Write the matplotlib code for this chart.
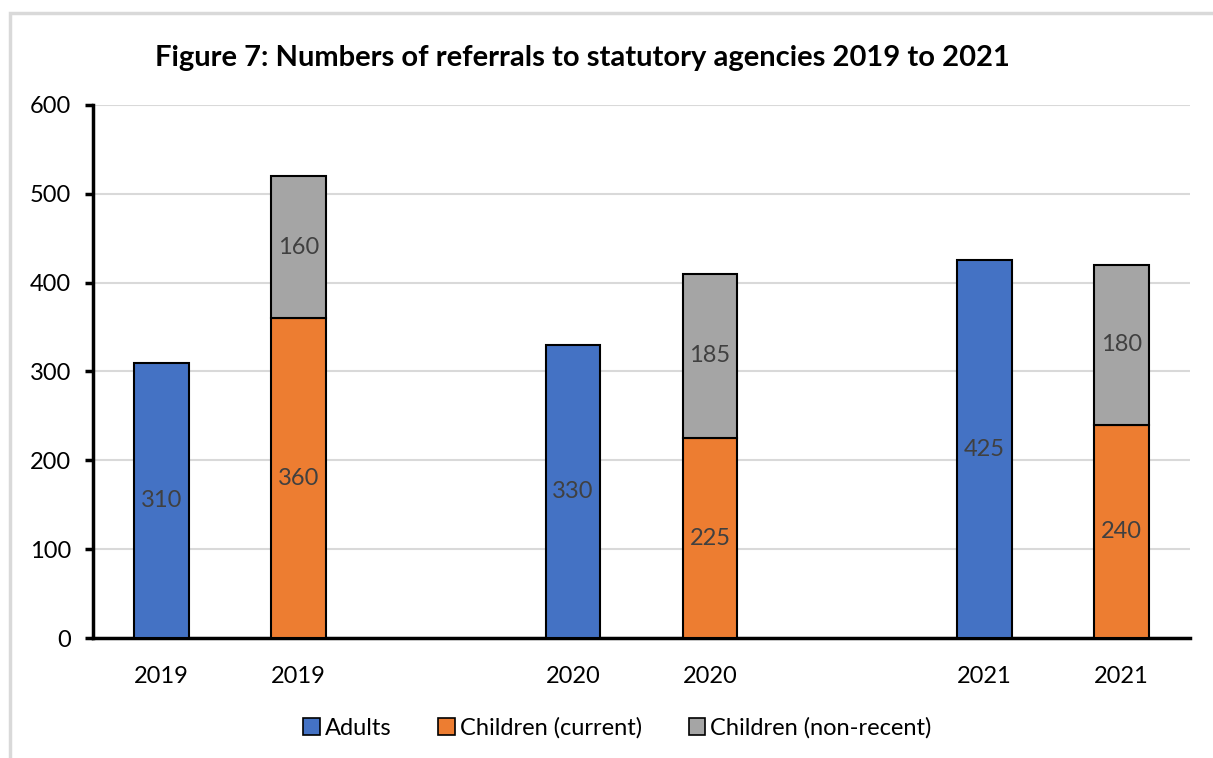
import matplotlib.pyplot as plt
from matplotlib.patches import Patch, Rectangle

# Referral counts per year
years = ["2019", "2020", "2021"]
adults = [310, 330, 425]
children_current = [360, 225, 240]
children_nonrecent = [160, 185, 180]

series_names = ["Adults", "Children (current)", "Children (non-recent)"]
colors = ["#4472C4", "#ED7D31", "#A5A5A5"]

plt.rcParams['font.family'] = ['Lato', 'DejaVu Sans']

fig = plt.figure(figsize=(12.13, 7.58), dpi=100)
ax = fig.add_axes([0.0767, 0.1583, 0.9043, 0.7032])

# light frame round the chart area
fig.patches.append(Rectangle((10 / 1213, -0.1), 1.2, 1 - 13 / 758 + 0.1,
                             transform=fig.transFigure, fill=False,
                             edgecolor="#d9d9d9", linewidth=2.5, zorder=0))

# adults in one slot, children stacked in the next, empty slot between years
adult_x = [3 * i for i in range(len(years))]
child_x = [3 * i + 1 for i in range(len(years))]
width = 0.4

b1 = ax.bar(adult_x, adults, width, color=colors[0], edgecolor="black", linewidth=1.5, zorder=3)
b2 = ax.bar(child_x, children_current, width, color=colors[1], edgecolor="black", linewidth=1.5, zorder=3)
b3 = ax.bar(child_x, children_nonrecent, width, bottom=children_current,
            color=colors[2], edgecolor="black", linewidth=1.5, zorder=3)

for bars in (b1, b2, b3):
    ax.bar_label(bars, label_type="center", fontsize=17, color="#404040")

ax.set_xlim(-0.5, 7.5)
ax.set_ylim(0, 600)
ax.set_yticks(range(0, 601, 100))
ax.set_xticks(adult_x + child_x)
ax.set_xticklabels(years + years)
ax.tick_params(axis="x", length=0, pad=20, labelsize=17)
ax.tick_params(axis="y", length=6, width=2.5, direction="out", pad=10, labelsize=17)

ax.grid(axis="y", color="#d9d9d9", linewidth=1.5, zorder=0)
ax.set_axisbelow(True)
for side in ("top", "right"):
    ax.spines[side].set_visible(False)
for side in ("left", "bottom"):
    ax.spines[side].set_linewidth(2.5)

fig.text(0.48, 0.9235, "Figure 7: Numbers of referrals to statutory agencies 2019 to 2021",
         ha="center", va="center", fontsize=21, fontweight="bold")

handles = [Patch(facecolor=c, edgecolor="black", linewidth=1.2) for c in colors]
fig.legend(handles, series_names, loc="center", bbox_to_anchor=(0.509, 0.0396),
           ncol=3, frameon=False, fontsize=17, handlelength=0.7, handleheight=0.7,
           handletextpad=0.2, columnspacing=2.0)

fig.savefig("out.png", dpi=100)
